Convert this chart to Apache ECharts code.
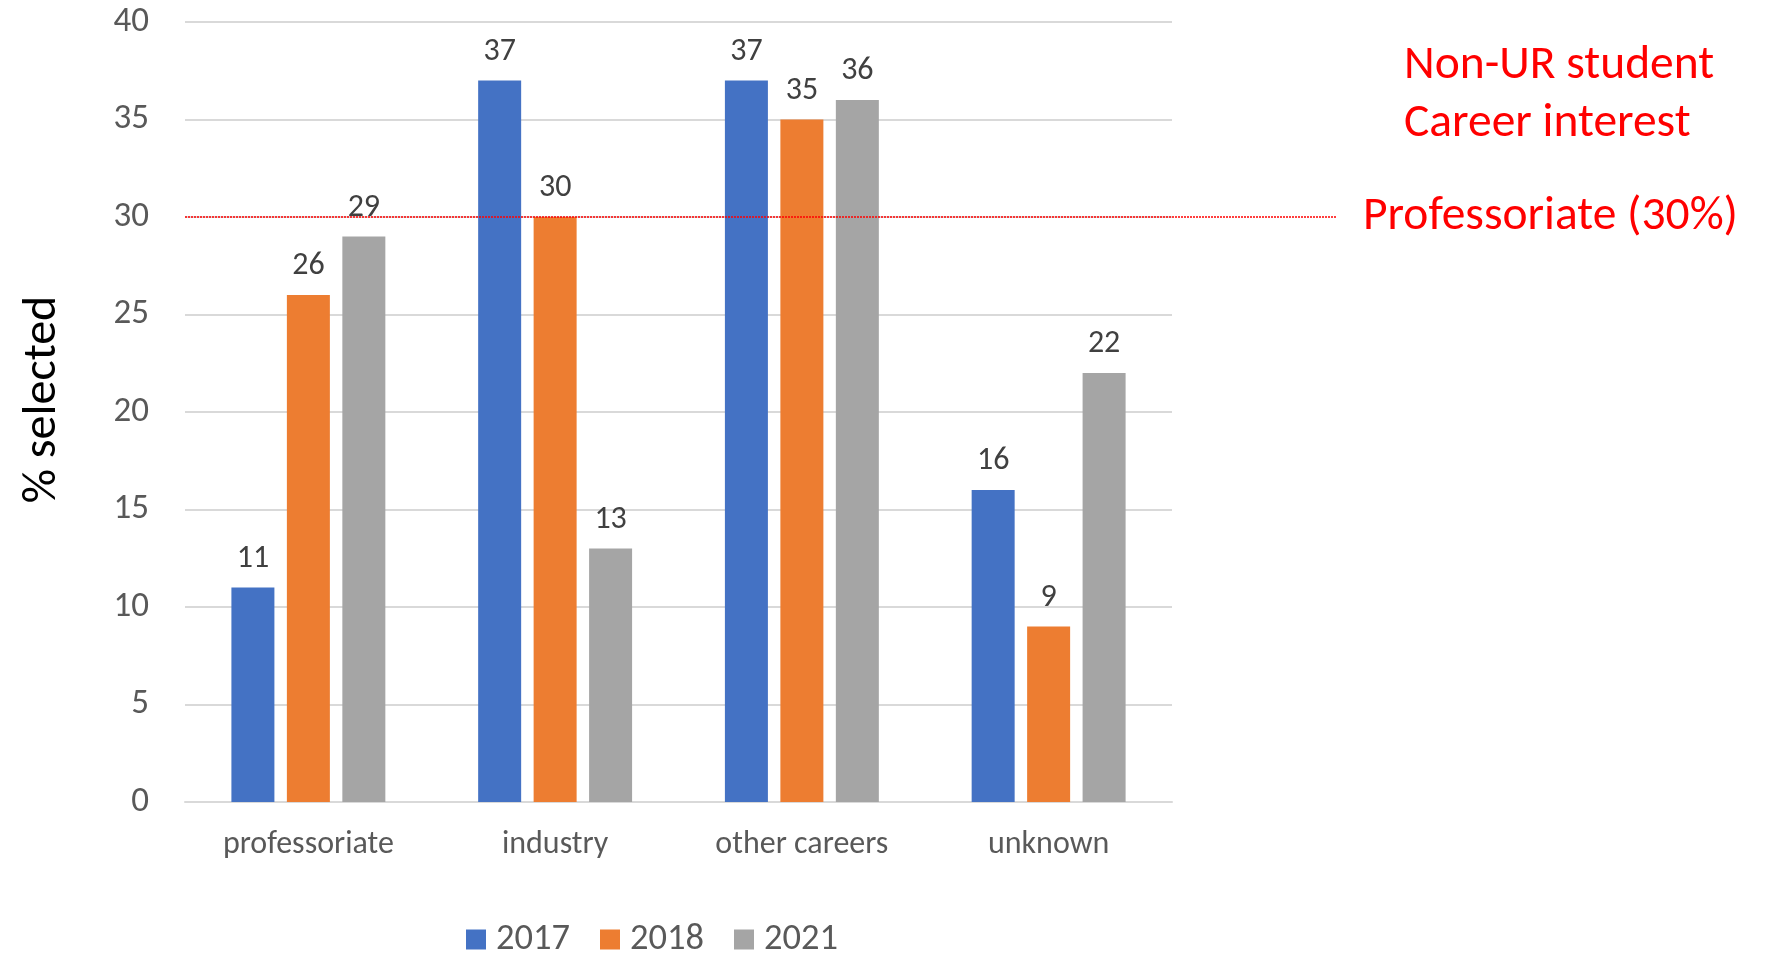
<!DOCTYPE html>
<html>
<head>
<meta charset="utf-8">
<style>
  html, body { margin: 0; padding: 0; background: #fff; }
  #chart { width: 1771px; height: 954px; }
</style>
<script src="https://cdn.jsdelivr.net/npm/echarts@6/dist/echarts.min.js"></script>
</head>
<body>
<div id="chart"></div>
<script>
// Career interest categories and share of students (%) per survey year
const categories = ['professoriate', 'industry', 'other careers', 'unknown'];
const years = ['2017', '2018', '2021'];
const values2017 = [11, 37, 37, 16];
const values2018 = [26, 30, 35, 9];
const values2021 = [29, 13, 36, 22];
const professoriateLevel = 30;
const yTicks = [0, 5, 10, 15, 20, 25, 30, 35, 40];

const FONT = 'Carlito, Lato, "Liberation Sans", sans-serif';
const colors = ['#4472C4', '#ED7D31', '#A5A5A5'];
const seriesValues = [values2017, values2018, values2021];

const chart = echarts.init(document.getElementById('chart'));

const barSeries = years.map((y, i) => ({
  name: y,
  type: 'bar',
  xAxisIndex: 0,
  yAxisIndex: 0,
  data: seriesValues[i],
  barWidth: 43,
  barGap: '29%',
  itemStyle: { color: colors[i] },
  label: {
    show: true,
    position: 'top',
    distance: 13,
    fontFamily: FONT,
    fontSize: 32,
    color: '#404040'
  },
  emphasis: { disabled: true }
}));

chart.setOption({
  animation: false,
  backgroundColor: '#ffffff',
  color: colors,
  textStyle: { fontFamily: FONT },
  title: {
    text: 'Non-UR student\nCareer interest',
    left: 1399,
    top: 32,
    textStyle: {
      color: '#FF0000',
      fontFamily: FONT,
      fontWeight: 'normal',
      fontSize: 47.5,
      lineHeight: 58
    }
  },
  legend: {
    data: years,
    left: 461,
    top: 916,
    icon: 'rect',
    itemWidth: 20,
    itemHeight: 20,
    itemGap: 30,
    textStyle: {
      fontFamily: FONT,
      fontSize: 36.5,
      color: '#595959',
      padding: [0, 0, 0, 5]
    }
  },
  grid: [
    { left: 185, right: 599, top: 22, bottom: 152, containLabel: false },
    { left: 185, right: 434, top: 22, bottom: 152, containLabel: false }
  ],
  xAxis: [
    {
      type: 'category',
      gridIndex: 0,
      data: categories,
      axisLine: { lineStyle: { color: '#D9D9D9', width: 2 } },
      axisTick: { show: false },
      axisLabel: {
        fontFamily: FONT,
        fontSize: 32,
        color: '#595959',
        margin: 27
      }
    },
    { type: 'value', gridIndex: 1, min: 0, max: 1, show: false }
  ],
  yAxis: [
    {
      type: 'value',
      gridIndex: 0,
      min: yTicks[0],
      max: yTicks[yTicks.length - 1],
      interval: yTicks[1] - yTicks[0],
      name: '% selected',
      nameLocation: 'middle',
      nameGap: 118,
      nameTextStyle: {
        fontFamily: FONT,
        fontSize: 48,
        color: '#000000',
        padding: [0, 0, 0, 25]
      },
      axisLine: { show: false },
      axisTick: { show: false },
      axisLabel: {
        fontFamily: FONT,
        fontSize: 35,
        color: '#595959',
        margin: 36
      },
      splitLine: { lineStyle: { color: '#D9D9D9', width: 2 } }
    },
    {
      type: 'value',
      gridIndex: 1,
      min: yTicks[0],
      max: yTicks[yTicks.length - 1],
      show: false
    }
  ],
  series: [
    ...barSeries,
    {
      // reference level for the professoriate share, extended past the plot
      name: 'level',
      type: 'line',
      xAxisIndex: 1,
      yAxisIndex: 1,
      data: [],
      silent: true,
      markLine: {
        silent: true,
        symbol: 'none',
        lineStyle: { color: '#FF0000', type: [2, 1], width: 1.5 },
        label: {
          show: true,
          position: 'end',
          distance: 26,
          formatter: 'Professoriate (30%)',
          fontFamily: FONT,
          fontSize: 47.5,
          color: '#FF0000',
          padding: [0, 0, 4, 0]
        },
        data: [{ yAxis: professoriateLevel }]
      }
    }
  ]
});
</script>
</body>
</html>
